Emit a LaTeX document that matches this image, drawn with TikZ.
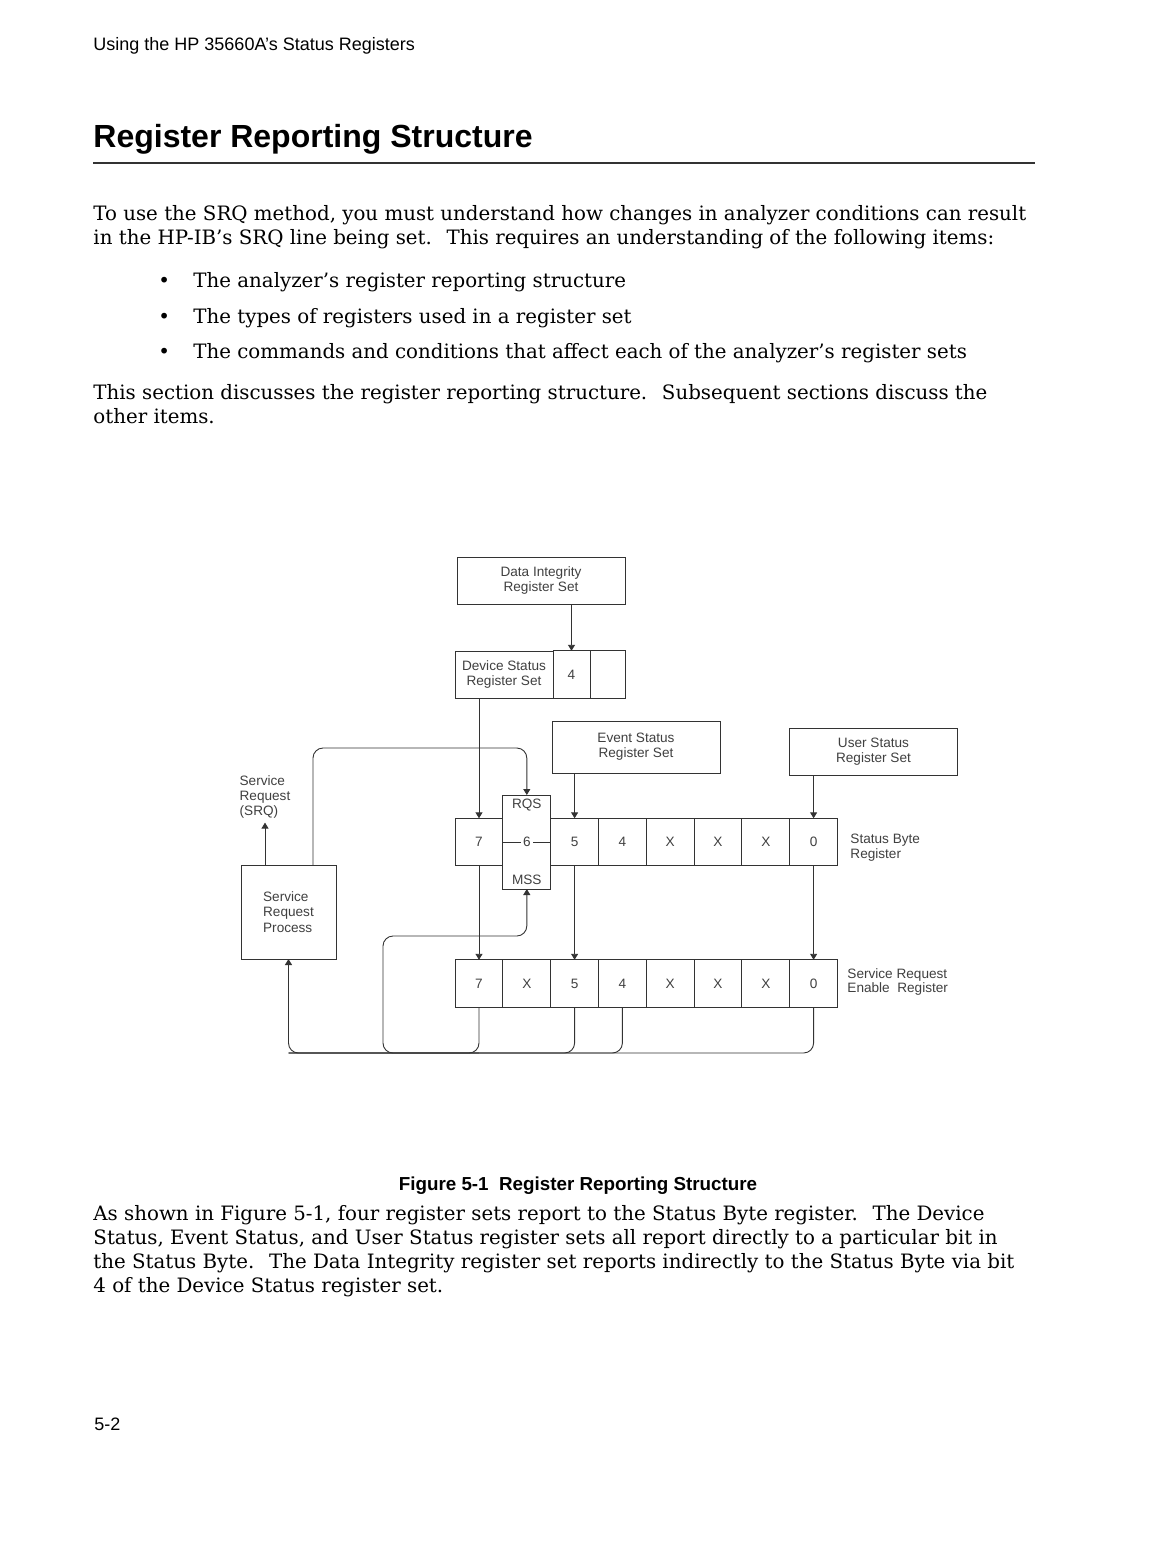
\documentclass[tikz,border=0pt]{standalone}
\usepackage{fontspec}
\setmainfont{DejaVu Serif}
\setsansfont{Liberation Sans}
\usetikzlibrary{arrows.meta,positioning}

\begin{document}
\begin{tikzpicture}[
  x=0.5pt, y=-0.5pt,
  line width=0.45pt,
  box/.style={draw=black!80, align=center, minimum width=84pt, minimum height=23.5pt, inner sep=0pt, outer sep=0pt, font=\sffamily\fontsize{6.8}{7.6}\selectfont, text=black!75},
  cell/.style={draw=black!80, minimum width=23.9pt, minimum height=23.7pt, inner sep=0pt, outer sep=0pt, font=\sffamily\fontsize{6.8}{7.6}\selectfont, text=black!75},
  arrow/.style={-{Triangle[width=3.5pt,length=3pt]}, draw=black!80},
  wire/.style={draw=black!80, rounded corners=5pt},
  note/.style={align=left, inner sep=0pt, font=\sffamily\fontsize{6.8}{7.4}\selectfont, text=black!75},
  body/.style={anchor=base west, inner sep=0pt, font=\fontsize{9.9}{12}\selectfont},
  head/.style={anchor=base west, inner sep=0pt, font=\sffamily\fontsize{9}{10}\selectfont}
]
\fill[white] (0,0) rectangle (1176,1544);
\useasboundingbox (0,0) rectangle (1176,1544);

% page text
\node[head] (hdr) at (93,50) {Using the HP 35660A’s Status Registers};
\node[head, font=\sffamily\bfseries\fontsize{16}{18}\selectfont] (title) at (93,147) {Register Reporting Structure};
\draw[line width=0.6pt, black!80] (93,163) -- (1035,163);

\node[body] (p1) at (93,220) {To use the SRQ method, you must understand how changes in analyzer conditions can result};
\node[body] (p2) at (93,244) {in the HP-IB’s SRQ line being set.~ This requires an understanding of the following items:};
\node[body] (b1) at (158,287) {•};
\node[body] (p3) at (193,287) {The analyzer’s register reporting structure};
\node[body] (b2) at (158,323) {•};
\node[body] (p4) at (193,323) {The types of registers used in a register set};
\node[body] (b3) at (158,358) {•};
\node[body] (p5) at (193,358) {The commands and conditions that affect each of the analyzer’s register sets};
\node[body] (p6) at (93,399) {This section discusses the register reporting structure.~ Subsequent sections discuss the};
\node[body] (p7) at (93,423) {other items.};

% register sets
\node[box] (dirs) at (541,580.5) {Data Integrity\\Register Set};
\node[box, minimum width=49pt] (dsrs) at (504,674.5) {Device Status\\Register Set};
\node[cell, minimum width=18.5pt, right=0pt of dsrs] (dsr4) {4};
\node[cell, minimum width=17.5pt, right=0pt of dsr4] (dsrx) {};
\node[box, minimum height=26pt] (esrs) at (636,747) {Event Status\\Register Set};
\node[box] (usrs) at (873.5,751.5) {User Status\\Register Set};

% status byte register
\node[cell] (sb7) at (479,842) {7};
\node[cell, minimum height=47pt, right=0pt of sb7] (sb6) {6};
\node[cell, right=0pt of sb6] (sb5) {5};
\node[cell, right=0pt of sb5] (sb4) {4};
\node[cell, right=0pt of sb4] (sbx3) {X};
\node[cell, right=0pt of sbx3] (sbx2) {X};
\node[cell, right=0pt of sbx2] (sbx1) {X};
\node[cell, right=0pt of sbx1] (sb0) {0};
\node[note, below=2pt of sb6.north] (rqs) {RQS};
\node[note, above=2pt of sb6.south] (mss) {MSS};
\draw[black!80] (sb6.west) -- +(18,0) (sb6.east) -- +(-18,0);
\node[note, anchor=west] (sblabel) at (850,848) {Status Byte\\Register};

% service request enable register
\node[cell] (sre7) at (479,983.5) {7};
\node[cell, right=0pt of sre7] (srex6) {X};
\node[cell, right=0pt of srex6] (sre5) {5};
\node[cell, right=0pt of sre5] (sre4) {4};
\node[cell, right=0pt of sre4] (srex3) {X};
\node[cell, right=0pt of srex3] (srex2) {X};
\node[cell, right=0pt of srex2] (srex1) {X};
\node[cell, right=0pt of srex1] (sre0) {0};
\node[note, anchor=west] (srelabel) at (847,982) {Service Request\\Enable\ \ Register};

% service request process
\node[box, minimum width=47.5pt, minimum height=47pt, align=left] (srp) at (288.5,912) {Service\\Request\\Process};
\node[note] (srq) at (265,797) {Service\\Request\\(SRQ)};

\coordinate (bus) at (600,1053);
\coordinate (mssloop) at (383,936);
\coordinate (rqsloop) at (313,748);

\draw[arrow] (dirs.south -| dsr4) -- (dsr4.north);
\draw[arrow] (dsrs.south -| sb7) -- (sb7.north);
\draw[arrow] (esrs.south -| sb5) -- (sb5.north);
\draw[arrow] (usrs.south -| sb0) -- (sb0.north);
\draw[arrow] (sb7) -- (sre7);
\draw[arrow] (sb5) -- (sre5);
\draw[arrow] (sb0) -- (sre0);

\draw[arrow, wire] (sre0.south) |- (srp.south |- bus) -- (srp.south);
\draw[wire] (sre7.south) |- (srp.south |- bus);
\draw[wire] (sre5.south) |- (srp.south |- bus);
\draw[wire] (sre4.south) |- (srp.south |- bus);
\draw[arrow, wire] (sre7.south |- bus) -| (mssloop) -| (sb6.south);
\draw[arrow, wire] (srp.north -| rqsloop) -- (rqsloop) -| (sb6.north);
\draw[arrow] (srp.north -| srq.south) -- ([yshift=-2pt]srq.south);

% caption and text below
\node[head, anchor=base, font=\sffamily\bfseries\fontsize{9.4}{10}\selectfont] (cap) at (578,1190) {Figure 5-1\ \ Register Reporting Structure};
\node[body] (q1) at (93,1220) {As shown in Figure 5-1, four register sets report to the Status Byte register.~ The Device};
\node[body] (q2) at (93,1244) {Status, Event Status, and User Status register sets all report directly to a particular bit in};
\node[body] (q3) at (93,1268) {the Status Byte.~ The Data Integrity register set reports indirectly to the Status Byte via bit};
\node[body] (q4) at (93,1292) {4 of the Device Status register set.};
\node[head] (pg) at (94,1430) {5-2};
\end{tikzpicture}
\end{document}
